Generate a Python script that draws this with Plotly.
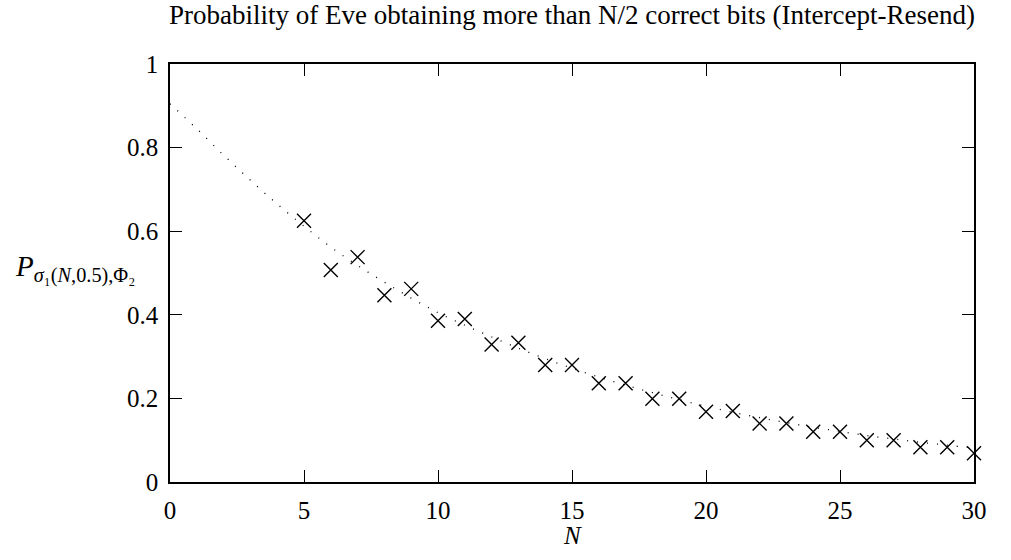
import plotly.graph_objects as go

# Data
n_values = [5, 6, 7, 8, 9, 10, 11, 12, 13, 14, 15, 16, 17, 18, 19, 20,
            21, 22, 23, 24, 25, 26, 27, 28, 29, 30]
p_values = [0.625, 0.507, 0.538, 0.447, 0.462, 0.386, 0.390, 0.329, 0.333,
            0.280, 0.280, 0.236, 0.236, 0.199, 0.199, 0.168, 0.170, 0.140,
            0.140, 0.120, 0.120, 0.100, 0.100, 0.083, 0.083, 0.069]

curve_x = [0, 1, 2, 3, 4, 5, 6, 7, 8, 9, 10, 11, 12, 13, 14, 15, 16, 17, 18,
           19, 20, 21, 22, 23, 24, 25, 26, 27, 28, 29, 30]
curve_y = [0.905, 0.845, 0.782, 0.722, 0.665, 0.612, 0.562, 0.518, 0.478,
           0.440, 0.405, 0.375, 0.347, 0.320, 0.295, 0.272, 0.251, 0.232,
           0.214, 0.197, 0.181, 0.167, 0.154, 0.142, 0.131, 0.121, 0.111,
           0.103, 0.095, 0.088, 0.081]

x_ticks = [0, 5, 10, 15, 20, 25, 30]
y_ticks = [0, 0.2, 0.4, 0.6, 0.8, 1]
y_tick_text = ["0", "0.2", "0.4", "0.6", "0.8", "1"]

title_text = "Probability of Eve obtaining more than N/2 correct bits (Intercept-Resend)"
FONT = "Liberation Serif"

fig = go.Figure()
fig.add_trace(go.Scatter(
    x=curve_x, y=curve_y, mode="lines",
    line=dict(color="black", width=1.3, dash="1px,9px", shape="spline"),
    showlegend=False, hoverinfo="skip"))
fig.add_trace(go.Scatter(
    x=n_values, y=p_values, mode="markers",
    marker=dict(symbol="x-thin-open", size=14, color="black",
                line=dict(color="black", width=1.4)),
    showlegend=False, cliponaxis=False))

axis_common = dict(showline=True, linecolor="black", linewidth=1.5,
                   mirror="ticks", ticks="inside", ticklen=12,
                   tickcolor="black", tickwidth=1.2, showgrid=False,
                   zeroline=False,
                   tickfont=dict(family=FONT, size=25, color="black"))

fig.update_layout(
    width=1011, height=560,
    margin=dict(l=170, r=37, t=64, b=78),
    paper_bgcolor="white", plot_bgcolor="white",
    xaxis=dict(range=[0, 30], tickvals=x_ticks, ticklabelstandoff=5,
               **axis_common),
    yaxis=dict(range=[0, 1], tickvals=y_ticks, ticktext=y_tick_text,
               ticklabelstandoff=5, **axis_common),
)
fig.add_annotation(text=title_text, xref="paper", yref="paper",
                   x=0.5, y=1.0, yshift=49, showarrow=False,
                   xanchor="center", yanchor="middle",
                   font=dict(family=FONT, size=27, color="black"))
fig.add_annotation(text="<i>N</i>", xref="paper", yref="paper",
                   x=0.5, y=0, yshift=-53, showarrow=False,
                   xanchor="center", yanchor="middle",
                   font=dict(family=FONT, size=25, color="black"))
fig.add_annotation(
    text="<i>P</i><sub><i>σ</i>₁(<i>N</i>,0.5),Φ₂</sub>",
    xref="paper", yref="paper", x=0, y=0.51, xshift=-157,
    showarrow=False, xanchor="left", yanchor="middle",
    font=dict(family=FONT, size=29, color="black"))

fig.write_html("out.html")
